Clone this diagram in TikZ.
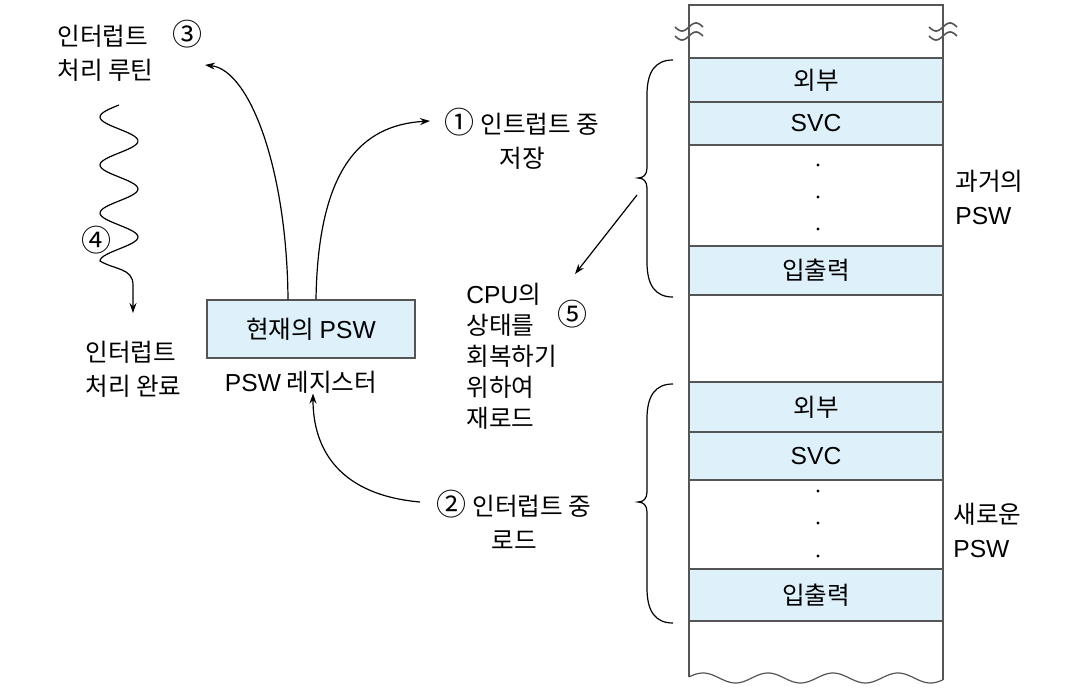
\documentclass[tikz,border=0pt]{standalone}
\usepackage{fontspec}
\setmainfont{Noto Sans CJK KR}
\newfontfamily\latin{Liberation Sans}
\usetikzlibrary{arrows.meta,calc}
\definecolor{cellblue}{RGB}{222,240,250}
\definecolor{edgegray}{RGB}{85,85,85}
\newcommand{\circnum}[1]{{\fontsize{15}{15}\selectfont #1}}

\begin{document}
\begin{tikzpicture}[x=0.5pt,y=-0.5pt,
  txt/.style={font=\fontsize{12.3}{17}\selectfont,inner sep=0pt},
  cell/.style={draw=edgegray,fill=cellblue,line width=0.6pt,minimum width=127pt,
    inner sep=0pt,font=\fontsize{12.3}{14}\selectfont},
  arr/.style={black,line width=0.6pt,-{Stealth[length=5pt,width=3.5pt]}}]

  \useasboundingbox (0,0) rectangle (1078,695);

  % Memory column
  \draw[edgegray,line width=0.6pt] (689,677) -- (689,5) -- (943,5) -- (943,680);
  \draw[edgegray,line width=0.6pt] plot[domain=689:943,samples=120,smooth]
    (\x,{678-5*cos((\x-703)/65*360)});
  \foreach \cx in {689,943}
    \foreach \cy in {27,36}
      \draw[edgegray,line width=0.8pt] plot[domain=-14:14,samples=40,smooth]
        ({\cx+\x},{\cy-4*sin(\x/28*360)});
  \draw[edgegray,line width=0.6pt] (689,58) -- (943,58);

  % Old PSW cells
  \node[cell,minimum height=22pt] (oldext) at (816,80) {외부};
  \node[cell,minimum height=21.5pt] (oldsvc) at (816,123.5) {\latin SVC};
  \node[cell,minimum height=24.5pt] (oldio) at (816,270.5) {입출력};
  \foreach \y in {165,197,229} \fill (818,\y) circle (1.7);

  % New PSW cells
  \node[cell,minimum height=25pt] (newext) at (816,407) {외부};
  \node[cell,minimum height=24pt] (newsvc) at (816,456) {\latin SVC};
  \node[cell,minimum height=26pt] (newio) at (816,595) {입출력};
  \foreach \y in {491,523,556} \fill (818,\y) circle (1.7);

  % Braces
  \draw[line width=0.6pt] (673,60) .. controls (655,60) and (647,72) .. (647,95)
    -- (647,168) .. controls (647,175) and (643,178) .. (638,178)
    .. controls (643,178) and (647,181) .. (647,188)
    -- (647,262) .. controls (647,285) and (655,297) .. (673,297);
  \draw[line width=0.6pt] (673,384) .. controls (655,384) and (647,396) .. (647,419)
    -- (647,492) .. controls (647,499) and (643,502) .. (638,502)
    .. controls (643,502) and (647,505) .. (647,512)
    -- (647,588) .. controls (647,611) and (655,623) .. (673,623);

  \node[txt,align=left,anchor=west] (old) at (955,197) {과거의\\{\latin PSW}};
  \node[txt,align=left,anchor=west] (new) at (953,530) {새로운\\{\latin PSW}};

  % PSW register
  \node[draw=edgegray,fill=cellblue,line width=0.6pt,minimum width=104pt,
    minimum height=29pt,txt] (psw) at (311,329) {현재의 {\latin PSW}};
  \node[txt] (pswlabel) at (301,382) {{\latin PSW} 레지스터};

  % Interrupt routine
  \node[txt,align=left,anchor=west] (routine) at (57,51) {인터럽트\quad\circnum{③}\\처리 루틴};
  \node[txt,align=left,anchor=west] (done) at (85,369) {인터럽트\\처리 완료};
  \node[txt] (four) at (96,240) {\circnum{④}};
  \draw[arr] plot[domain=105:261,samples=90,smooth] ({119-19*sin((\x-105)*7.5)},\x)
    .. controls (115,270) and (133,268) .. (133,285) -- (133,313);

  % Save and load
  \node[txt,align=center] (save) at (522,139) {\circnum{①} 인트럽트 중\\저장};
  \node[txt,align=center] (load) at (514,520) {\circnum{②} 인터럽트 중\\로드};
  \node[txt,align=left,anchor=north west,font=\fontsize{12.3}{15.5}\selectfont] (restore)
    at (466,283) {{\latin CPU}의\\상태를\\회복하기\\위하여\\재로드};
  \node[txt] (five) at (572,314) {\circnum{⑤}};

  \coordinate (routineend) at (205,65);
  \coordinate (saveend) at (430,121);
  \coordinate (loadstart) at (420,502);
  \coordinate (bracestart) at (637,195);
  \coordinate (restoreend) at (575,274);

  % Connectors
  \draw[arr] ($(psw.north)+(-23,0)$) .. controls (287,170) and (250,70) .. (routineend);
  \draw[arr] ($(psw.north)+(5,0)$) .. controls (318,170) and (360,125) .. (saveend);
  \draw[arr] (loadstart) .. controls (340,495) and (313,450) .. (pswlabel.south -| 313,0);
  \draw[arr] (bracestart) -- (restoreend);

\end{tikzpicture}
\end{document}
